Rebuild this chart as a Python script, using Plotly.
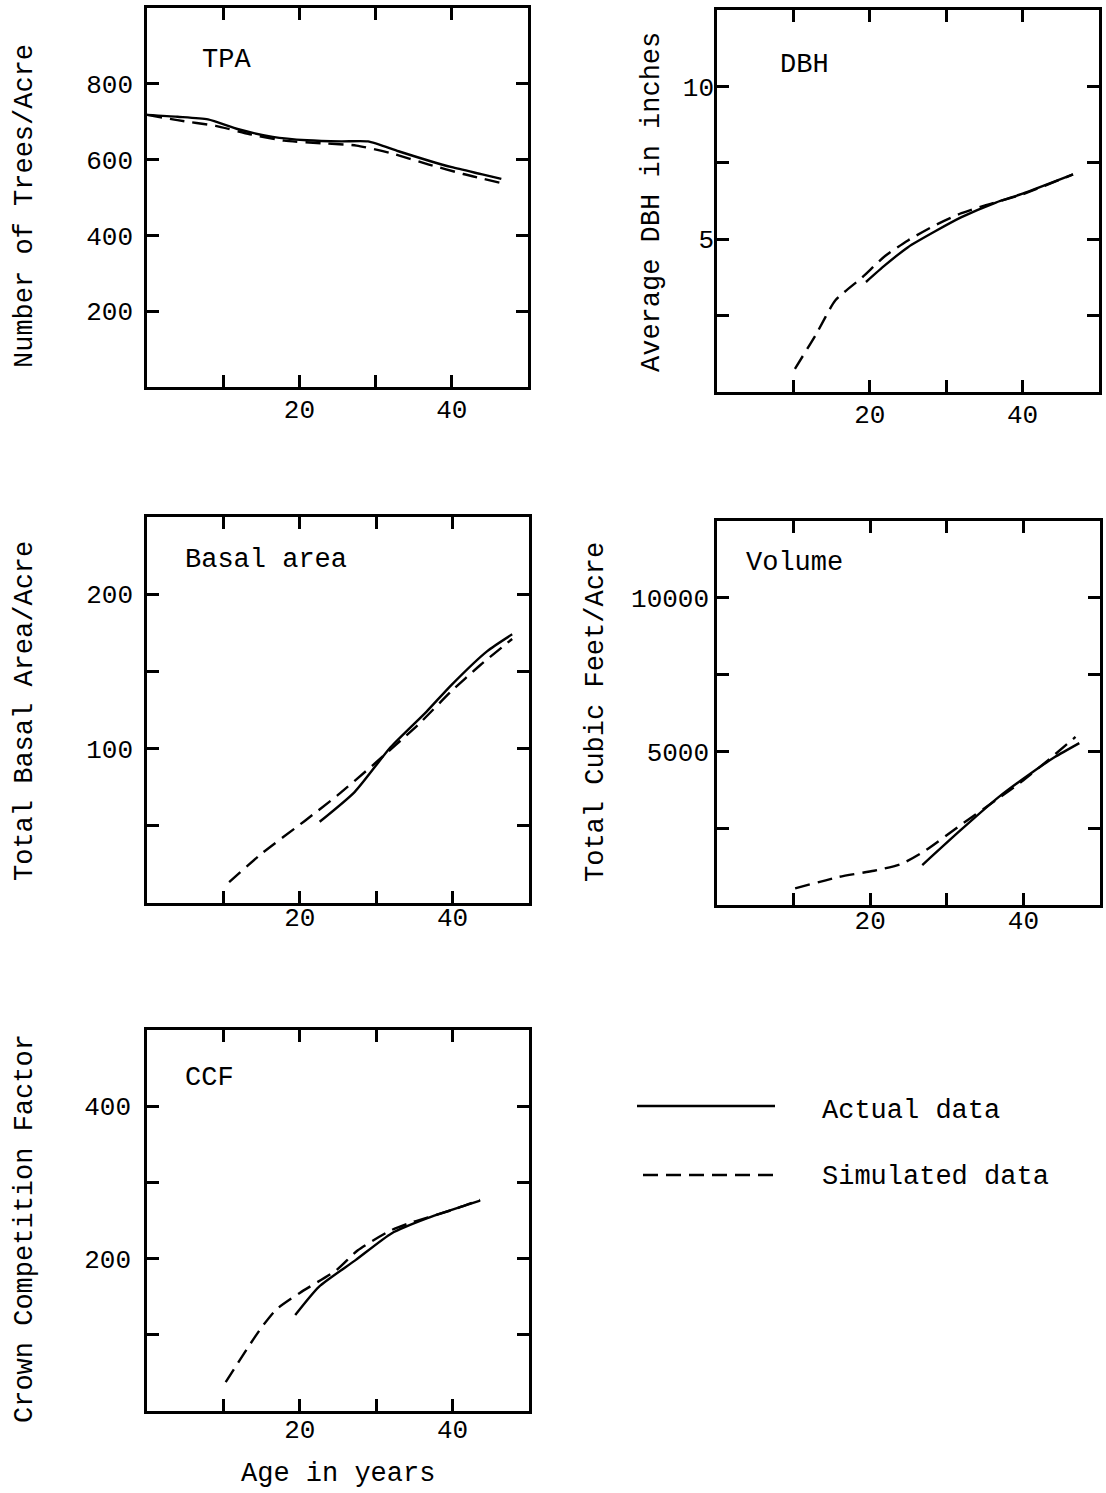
import plotly.graph_objects as go

W, H = 1106, 1493
FONT = "Liberation Mono"

# ---------------- data ----------------
tpa_age_actual = [0, 4, 8, 12, 16.5, 21, 25.5, 29, 33, 37, 40, 44, 46.5]
tpa_actual = [718, 713, 706, 680, 660, 651, 648, 648, 622, 597, 580, 561, 549]
tpa_age_sim = [0, 4, 9, 13.5, 18, 23, 27.5, 32, 37, 41.5, 46.5]
tpa_sim = [718, 704, 689, 667, 650, 643, 637, 617, 587, 562, 538]

dbh_age_actual = [19.5, 22, 25, 28.5, 32, 36.5, 40, 46.6]
dbh_actual = [3.6, 4.15, 4.74, 5.25, 5.72, 6.2, 6.49, 7.12]
dbh_age_sim = [10.2, 13, 15.5, 19, 22, 25, 28.5, 32, 35, 40, 46.6]
dbh_sim = [0.76, 1.9, 3.0, 3.75, 4.45, 4.96, 5.45, 5.85, 6.1, 6.47, 7.12]

ba_age_actual = [22.6, 27.2, 31.9, 36.6, 39.8, 44.5, 47.8]
ba_actual = [52.6, 72, 101, 124, 141, 163, 174]
ba_age_sim = [10.75, 15, 20.6, 25, 29.5, 35.6, 39.8, 43.6, 47.8]
ba_sim = [13.5, 32, 53, 70, 89, 116, 137, 154, 171]

vol_age_actual = [26.8, 31.8, 36.8, 40.9, 44.1, 47.3]
vol_actual = [1300, 2435, 3520, 4275, 4815, 5270]
vol_age_sim = [10.2, 16, 20.5, 24, 27.3, 31.8, 36.4, 40, 43.2, 46.8]
vol_sim = [540, 920, 1115, 1330, 1790, 2600, 3410, 4060, 4710, 5470]

ccf_age_actual = [19.4, 22.5, 27.3, 32, 36.7, 43.6]
ccf_actual = [126, 163, 198, 233, 253, 276]
ccf_age_sim = [10.3, 14.8, 16.9, 20, 24.8, 27.6, 31.9, 34.8, 40, 43.6]
ccf_sim = [38, 107, 133, 155, 185, 211, 237, 248, 264, 277]

x_tickvals = [10, 20, 30, 40]
x_ticktext = ["", "20", "", "40"]

panels = [
    dict(name="TPA", ytitle="Number of Trees/Acre",
         box=(147, 528, 8, 387), yrange=[0, 1000],
         ytv=[200, 400, 600, 800], ytt=["200", "400", "600", "800"],
         ax=tpa_age_actual, ay=tpa_actual, sx=tpa_age_sim, sy=tpa_sim,
         lab=(200, 60), ytpos=(25, 206), xso=-3, yso=6),
    dict(name="DBH", ytitle="Average DBH in inches",
         box=(717, 1099, 10, 392), yrange=[0, 12.5],
         ytv=[2.5, 5, 7.5, 10], ytt=["", "5", "", "10"],
         ax=dbh_age_actual, ay=dbh_actual, sx=dbh_age_sim, sy=dbh_sim,
         lab=(778, 65), ytpos=(652, 202), xso=-3, yso=-5),
    dict(name="Basal area", ytitle="Total Basal Area/Acre",
         box=(147, 529, 517, 903), yrange=[0, 250],
         ytv=[50, 100, 150, 200], ytt=["", "100", "", "200"],
         ax=ba_age_actual, ay=ba_actual, sx=ba_age_sim, sy=ba_sim,
         lab=(183, 560), ytpos=(25, 711), xso=-11, yso=6),
    dict(name="Volume", ytitle="Total Cubic Feet/Acre",
         box=(717, 1100, 521, 905), yrange=[0, 12500],
         ytv=[2500, 5000, 7500, 10000], ytt=["", "5000", "", "10000"],
         ax=vol_age_actual, ay=vol_actual, sx=vol_age_sim, sy=vol_sim,
         lab=(744, 563), ytpos=(596, 712), xso=-10, yso=0),
    dict(name="CCF", ytitle="Crown Competition Factor",
         box=(147, 529, 1030, 1411), yrange=[0, 500],
         ytv=[100, 200, 300, 400], ytt=["", "200", "", "400"],
         ax=ccf_age_actual, ay=ccf_actual, sx=ccf_age_sim, sy=ccf_sim,
         lab=(183, 1078), ytpos=(25, 1229), xso=-7, yso=8),
]

fig = go.Figure()
layout = dict(
    width=W, height=H, margin=dict(l=0, r=0, t=0, b=0),
    paper_bgcolor="white", plot_bgcolor="white", showlegend=False,
    font=dict(family=FONT, size=26, color="black"),
)
annotations = []
shapes = []
TXT = dict(family=FONT, size=27, color="black")

for i, p in enumerate(panels, start=1):
    x0, x1, y0, y1 = p["box"]
    xa = "xaxis" if i == 1 else f"xaxis{i}"
    ya = "yaxis" if i == 1 else f"yaxis{i}"
    xr = "x" if i == 1 else f"x{i}"
    yr = "y" if i == 1 else f"y{i}"
    common = dict(showline=True, linecolor="black", linewidth=2.5, mirror="ticks",
                  ticks="inside", ticklen=12, tickwidth=2.5, tickcolor="black",
                  showgrid=False, zeroline=False, fixedrange=True,
                  tickfont=dict(family=FONT, size=26, color="black"))
    layout[xa] = dict(domain=[x0 / W, x1 / W], range=[0, 50], anchor=yr,
                      tickmode="array", tickvals=x_tickvals, ticktext=x_ticktext,
                      ticklabelstandoff=p["xso"], **common)
    layout[ya] = dict(domain=[1 - y1 / H, 1 - y0 / H], range=p["yrange"], anchor=xr,
                      tickmode="array", tickvals=p["ytv"], ticktext=p["ytt"],
                      ticklabelstandoff=p["yso"], **common)
    fig.add_trace(go.Scatter(x=p["ax"], y=p["ay"], mode="lines", xaxis=xr, yaxis=yr,
                             name="Actual data",
                             line=dict(color="black", width=2.4, shape="spline", smoothing=0.6)))
    fig.add_trace(go.Scatter(x=p["sx"], y=p["sy"], mode="lines", xaxis=xr, yaxis=yr,
                             name="Simulated data",
                             line=dict(color="black", width=2.4, dash="15px,8px",
                                       shape="spline", smoothing=0.6)))
    lx, ly = p["lab"]
    annotations.append(dict(text=p["name"], xref="paper", yref="paper",
                            x=lx / W, y=1 - ly / H, xanchor="left", yanchor="middle",
                            showarrow=False, font=TXT))
    tx, ty = p["ytpos"]
    annotations.append(dict(text=p["ytitle"], xref="paper", yref="paper",
                            x=tx / W, y=1 - ty / H, xanchor="center", yanchor="middle",
                            textangle=-90, showarrow=False, font=TXT))

annotations.append(dict(text="Age in years", xref="paper", yref="paper",
                        x=338 / W, y=1 - 1474 / H, xanchor="center", yanchor="middle",
                        showarrow=False, font=TXT))

# legend (manual, as in the original figure)
shapes.append(dict(type="line", xref="paper", yref="paper",
                   x0=637 / W, x1=775 / W, y0=1 - 1106 / H, y1=1 - 1106 / H,
                   line=dict(color="black", width=2.4)))
shapes.append(dict(type="line", xref="paper", yref="paper",
                   x0=643 / W, x1=773 / W, y0=1 - 1175 / H, y1=1 - 1175 / H,
                   line=dict(color="black", width=2.4, dash="15px,8px")))
annotations.append(dict(text="Actual data", xref="paper", yref="paper",
                        x=820 / W, y=1 - 1111 / H, xanchor="left", yanchor="middle",
                        showarrow=False, font=TXT))
annotations.append(dict(text="Simulated data", xref="paper", yref="paper",
                        x=820 / W, y=1 - 1177 / H, xanchor="left", yanchor="middle",
                        showarrow=False, font=TXT))

layout["annotations"] = annotations
layout["shapes"] = shapes
fig.update_layout(**layout)
fig.write_html("out.html")
